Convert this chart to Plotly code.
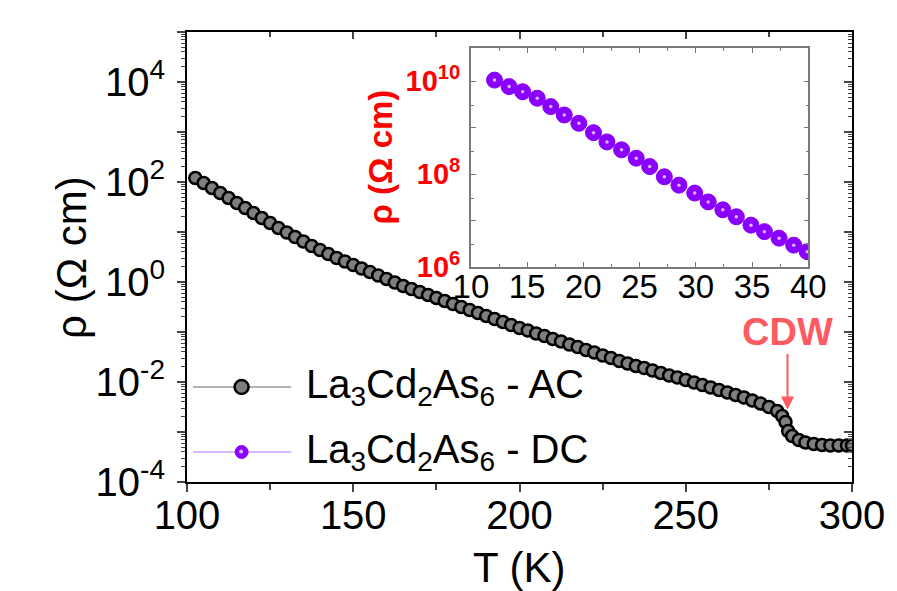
import plotly.graph_objects as go

# ---------------- data ----------------
T_ac = [102.5, 105, 107.5, 110, 112.5, 115, 117.5, 120, 122.5, 125, 127.5, 130, 132.5, 135,
        137.5, 140, 142.5, 145, 147.5, 150, 152.5, 155, 157.5, 160, 162.5, 165, 167.5, 170,
        172.5, 175, 177.5, 180, 182.5, 185, 187.5, 190, 192.5, 195, 197.5, 200, 202.5, 205,
        207.5, 210, 212.5, 215, 217.5, 220, 222.5, 225, 227.5, 230, 232.5, 235, 237.5, 240,
        242.5, 245, 247.5, 250, 252.5, 255, 257.5, 260, 262.5, 265, 267.5, 270, 272.5, 275,
        277.5, 279, 280, 280.8, 282, 284, 286, 288.5, 291, 293.5, 296, 298.5, 300]
log_rho_ac = [2.08, 1.98, 1.88, 1.78, 1.68, 1.58, 1.48, 1.38, 1.28, 1.18, 1.08, 0.99, 0.90, 0.81,
              0.72, 0.64, 0.56, 0.48, 0.41, 0.34, 0.27, 0.20, 0.13, 0.06, -0.01, -0.08, -0.14, -0.20,
              -0.26, -0.32, -0.38, -0.44, -0.50, -0.56, -0.62, -0.68, -0.74, -0.80, -0.86, -0.92, -0.97, -1.03,
              -1.08, -1.14, -1.19, -1.25, -1.30, -1.36, -1.41, -1.47, -1.52, -1.58, -1.63, -1.68, -1.72, -1.77,
              -1.82, -1.87, -1.91, -1.96, -2.01, -2.06, -2.11, -2.16, -2.21, -2.26, -2.31, -2.37, -2.43, -2.50,
              -2.58, -2.68, -2.80, -2.98, -3.08, -3.16, -3.21, -3.24, -3.26, -3.27, -3.27, -3.27, -3.27]

T_dc = [12.1, 13.4, 14.6, 15.9, 17.1, 18.3, 19.6, 20.9, 22.1, 23.4, 24.7, 25.9, 27.2, 28.5,
        29.9, 31.1, 32.4, 33.6, 34.9, 36.1, 37.4, 38.7, 39.9]
log_rho_dc = [10.02, 9.88, 9.77, 9.63, 9.45, 9.27, 9.09, 8.89, 8.69, 8.52, 8.34, 8.16, 7.94, 7.76,
              7.59, 7.40, 7.23, 7.08, 6.90, 6.76, 6.62, 6.47, 6.33]

main_x_ticks = [100, 150, 200, 250, 300]
main_y_exps = [-4, -3, -2, -1, 0, 1, 2, 3, 4, 5]
inset_x_ticks = [10, 15, 20, 25, 30, 35, 40]
inset_y_exps = [6, 7, 8, 9, 10]

legend_ac = "La<sub>3</sub>Cd<sub>2</sub>As<sub>6</sub> - AC"
legend_dc = "La<sub>3</sub>Cd<sub>2</sub>As<sub>6</sub> - DC"

rho_ac = [10 ** v for v in log_rho_ac]
rho_dc = [10 ** v for v in log_rho_dc]

FONT = "Liberation Sans, Arial, sans-serif"
PURPLE = "#8a00ff"
CDW_RED = "#ff5a5f"

fig = go.Figure()

fig.add_trace(go.Scatter(
    x=T_ac, y=rho_ac, mode="markers", name=legend_ac, showlegend=False,
    marker=dict(symbol="circle", size=12, color="#7f7f7f", line=dict(color="black", width=2.5)),
    xaxis="x", yaxis="y"))

# helper trace so the mirrored (top/right) tick axes get drawn
fig.add_trace(go.Scatter(
    x=T_ac, y=rho_ac, mode="markers", showlegend=False, hoverinfo="skip",
    marker=dict(size=1, opacity=0), xaxis="x3", yaxis="y3"))

fig.add_trace(go.Scatter(
    x=T_dc, y=rho_dc, mode="markers", name=legend_dc, showlegend=False,
    marker=dict(symbol="circle", size=16, color=PURPLE, line=dict(color=PURPLE, width=1)),
    xaxis="x2", yaxis="y2"))
fig.add_trace(go.Scatter(
    x=T_dc, y=rho_dc, mode="markers", showlegend=False, hoverinfo="skip",
    marker=dict(symbol="circle", size=3.5, color="rgba(255,255,255,0.7)", line=dict(width=0)),
    xaxis="x2", yaxis="y2"))

def sup(e, bold=False):
    s = "10<sup>%d</sup>" % e
    return "<b>%s</b>" % s if bold else s

main_minor_y = [m * 10 ** e for e in main_y_exps[:-1] for m in range(2, 10)]
inset_minor_y = [3 * 10 ** e for e in inset_y_exps[:-1]]

fig.update_layout(
    width=897, height=591,
    margin=dict(l=187, r=40, t=32, b=109),
    paper_bgcolor="white", plot_bgcolor="white",
    font=dict(family=FONT, color="black"),
    xaxis=dict(
        range=[100, 300], tickvals=main_x_ticks, ticks="outside", ticklen=8, tickwidth=2,
        minor=dict(dtick=25, ticks="outside", ticklen=6, tickwidth=1.5),
        showline=True, linecolor="black", linewidth=2, mirror=True,
        showgrid=False, zeroline=False, tickfont=dict(size=40, family=FONT),
        ticklabelstandoff=-11),
    yaxis=dict(
        type="log", range=[-4, 5],
        tickvals=[10 ** e for e in main_y_exps],
        ticktext=[sup(e) if e % 2 == 0 else "" for e in main_y_exps],
        ticks="outside", ticklen=8, tickwidth=2,
        minor=dict(tickvals=main_minor_y, ticks="outside", ticklen=4, tickwidth=1),
        showline=True, linecolor="black", linewidth=2, mirror=True,
        showgrid=False, zeroline=False, tickfont=dict(size=40, family=FONT),
        ticklabelstandoff=4),
    xaxis3=dict(
        overlaying="x", side="top", range=[100, 300], tickvals=main_x_ticks,
        ticks="inside", ticklen=7, tickwidth=2, showticklabels=False,
        minor=dict(dtick=25, ticks="inside", ticklen=5, tickwidth=1.5),
        showline=False, showgrid=False, zeroline=False, anchor="y3"),
    yaxis3=dict(
        overlaying="y", side="right", type="log", range=[-4, 5],
        tickvals=[10 ** e for e in main_y_exps], ticks="inside", ticklen=8, tickwidth=2,
        showticklabels=False,
        minor=dict(tickvals=main_minor_y, ticks="inside", ticklen=4, tickwidth=1),
        showline=False, showgrid=False, zeroline=False, anchor="x3"),
    xaxis2=dict(
        domain=[0.4269, 0.9343], anchor="y2", range=[10, 40], tickvals=inset_x_ticks,
        ticks="inside", ticklen=5, tickwidth=1.2, tickcolor="#777",
        minor=dict(dtick=2.5, ticks="inside", ticklen=3, tickwidth=1, tickcolor="#777"),
        showline=True, linecolor="#7a7a7a", linewidth=1.5, mirror="allticks",
        showgrid=False, zeroline=False, tickfont=dict(size=33, family=FONT),
        ticklabelstandoff=-10),
    yaxis2=dict(
        domain=[0.4778, 0.9644], anchor="x2", type="log", range=[6, 10.71],
        tickvals=[10 ** e for e in inset_y_exps],
        ticktext=[sup(e, True) if e % 2 == 0 else "" for e in inset_y_exps],
        ticks="inside", ticklen=5, tickwidth=1.2, tickcolor="#777",
        minor=dict(tickvals=inset_minor_y, ticks="inside", ticklen=3, tickwidth=1, tickcolor="#777"),
        showline=True, linecolor="#7a7a7a", linewidth=1.5, mirror="allticks",
        showgrid=False, zeroline=False, tickfont=dict(size=29, family=FONT, color="red"),
        ticklabelstandoff=3),
)

# axis titles
fig.add_annotation(text="ρ (Ω cm)", xref="paper", yref="paper", x=-0.1746, y=0.5,
                   textangle=-90, showarrow=False, font=dict(size=42, family=FONT),
                   xanchor="center", yanchor="middle")
fig.add_annotation(text="T (K)", xref="paper", yref="paper", x=0.5, y=-0.189,
                   showarrow=False, font=dict(size=42, family=FONT),
                   xanchor="center", yanchor="middle")
fig.add_annotation(text="<b>ρ (Ω cm)</b>", xref="paper", yref="paper", x=0.2895, y=0.7222,
                   textangle=-90, showarrow=False, font=dict(size=33, family=FONT, color="red"),
                   xanchor="center", yanchor="middle")

# CDW arrow
fig.add_annotation(text="<b>CDW</b>", x=280.6, y=-2.55, xref="x", yref="y",
                   showarrow=True, ax=0, ay=-78, arrowhead=2, arrowsize=1.3, arrowwidth=2,
                   arrowcolor=CDW_RED, font=dict(size=38, family=FONT, color=CDW_RED))

# custom legend
ly_ac, ly_dc = 0.2111, 0.0667
lx0, lx1, lxm = 0.009, 0.1567, 0.0821
fig.add_shape(type="line", xref="paper", yref="paper", x0=lx0, x1=lx1, y0=ly_ac, y1=ly_ac,
              line=dict(color="#9a9a9a", width=1.5))
fig.add_shape(type="circle", xref="paper", yref="paper", xsizemode="pixel", ysizemode="pixel",
              xanchor=lxm, yanchor=ly_ac, x0=-7, x1=7, y0=-7, y1=7,
              fillcolor="#7f7f7f", line=dict(color="black", width=2.5))
fig.add_shape(type="line", xref="paper", yref="paper", x0=lx0, x1=lx1, y0=ly_dc, y1=ly_dc,
              line=dict(color="#cf9fff", width=1.5))
fig.add_shape(type="circle", xref="paper", yref="paper", xsizemode="pixel", ysizemode="pixel",
              xanchor=lxm, yanchor=ly_dc, x0=-6.5, x1=6.5, y0=-6.5, y1=6.5,
              fillcolor=PURPLE, line=dict(color=PURPLE, width=1))
fig.add_shape(type="circle", xref="paper", yref="paper", xsizemode="pixel", ysizemode="pixel",
              xanchor=lxm, yanchor=ly_dc, x0=-2.5, x1=1.5, y0=-1.5, y1=2.5,
              fillcolor="rgba(255,255,255,0.7)", line=dict(width=0))
fig.add_annotation(text=legend_ac, xref="paper", yref="paper", x=0.1761, y=ly_ac,
                   xanchor="left", yanchor="middle", showarrow=False,
                   font=dict(size=40, family=FONT))
fig.add_annotation(text=legend_dc, xref="paper", yref="paper", x=0.1761, y=ly_dc,
                   xanchor="left", yanchor="middle", showarrow=False,
                   font=dict(size=40, family=FONT))

fig.write_html("out.html")
